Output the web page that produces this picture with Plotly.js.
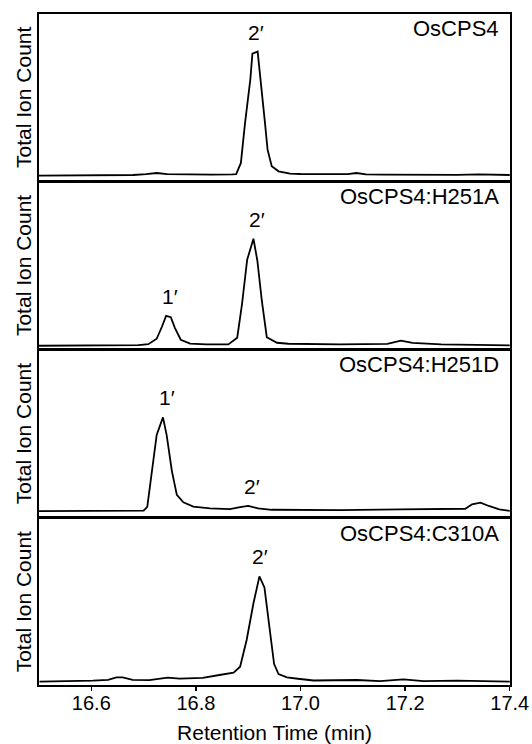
<!DOCTYPE html>
<html>
<head>
<meta charset="utf-8">
<script src="https://cdn.plot.ly/plotly-3.0.1.min.js"></script>
<style>html,body{margin:0;padding:0;background:#fff;}#chart{width:532px;height:744px;}</style>
</head>
<body>
<div id="chart"></div>
<script>
// ---- Data (retention time in min, relative total ion count) ----
var panelNames = ["OsCPS4", "OsCPS4:H251A", "OsCPS4:H251D", "OsCPS4:C310A"];

var timeA = [16.500, 16.560, 16.620, 16.680, 16.705, 16.725, 16.745, 16.780, 16.830, 16.870, 16.877, 16.886, 16.894, 16.904, 16.908, 16.918, 16.924, 16.932, 16.937, 16.945, 16.958, 16.980, 17.000, 17.050, 17.090, 17.107, 17.125, 17.160, 17.220, 17.300, 17.340, 17.360, 17.400];
var ticA  = [5.0, 5.0, 5.2, 5.6, 6.5, 7.6, 6.4, 6.0, 6.0, 6.3, 6.5, 17.7, 58, 101, 127, 129, 101, 58, 31, 14.3, 9.3, 7.0, 6.6, 6.3, 6.5, 7.6, 6.3, 6.0, 5.8, 5.8, 6.2, 5.8, 5.6];

var timeB = [16.500, 16.620, 16.690, 16.709, 16.725, 16.735, 16.743, 16.752, 16.760, 16.771, 16.789, 16.820, 16.862, 16.879, 16.888, 16.898, 16.910, 16.9175, 16.926, 16.9355, 16.955, 16.977, 17.075, 17.166, 17.192, 17.214, 17.269, 17.400];
var ticB  = [3.0, 3.3, 3.6, 4.6, 10, 22, 32.8, 31.5, 20.7, 9.0, 5.2, 4.3, 4.3, 11, 44, 89, 110, 88, 48, 11.5, 6.0, 5.0, 4.4, 4.8, 8.1, 5.8, 4.4, 3.4];

var timeC = [16.500, 16.620, 16.674, 16.700, 16.707, 16.716, 16.725, 16.737, 16.744, 16.754, 16.7635, 16.776, 16.795, 16.827, 16.865, 16.8845, 16.900, 16.919, 16.945, 17.075, 17.165, 17.190, 17.315, 17.328, 17.344, 17.360, 17.380, 17.400];
var ticC  = [5.8, 5.8, 5.8, 6.2, 10, 46, 82, 99.5, 82, 46, 22, 14.5, 10.2, 8.4, 7.8, 9.8, 11, 8.5, 7.1, 6.8, 6.8, 7.5, 8.1, 12.6, 14.3, 10.9, 7.5, 6.1];

var timeD = [16.501, 16.558, 16.603, 16.632, 16.648, 16.660, 16.679, 16.711, 16.746, 16.769, 16.813, 16.845, 16.872, 16.8845, 16.897, 16.910, 16.9214, 16.931, 16.9405, 16.9495, 16.958, 16.974, 16.999, 17.025, 17.108, 17.152, 17.197, 17.235, 17.299, 17.400];
var ticD  = [3.4, 3.7, 4.4, 5.2, 7.6, 7.6, 5.2, 4.8, 7.3, 6.4, 7.1, 10, 12.3, 18.3, 45, 81.7, 108.5, 97.5, 57, 21, 11, 7.7, 6.0, 4.5, 5.0, 3.8, 5.6, 3.8, 4.3, 3.4];

// peak labels: panel index, label, retention time
var peakPanel = [0, 1, 1, 2, 2, 3];
var peakText  = ["2\u2032", "1\u2032", "2\u2032", "1\u2032", "2\u2032", "2\u2032"];
var peakTime  = [16.915, 16.751, 16.917, 16.745, 16.907, 16.923];

var tickVals = [16.6, 16.8, 17.0, 17.2, 17.4];
var tickText = ["16.6", "16.8", "17.0", "17.2", "17.4"];

(function () {
  var times = [timeA, timeB, timeC, timeD];
  var tics  = [ticA, ticB, ticC, ticD];
  var FONT = "Liberation Sans, Arial, Helvetica, sans-serif";
  var nP = 4, gap = 0.00224, ph = (1 - gap * (nP - 1)) / nP;
  var yMax = 166.6;

  var traces = [], annotations = [];
  var layout = {
    width: 532, height: 744,
    margin: {l: 39, r: 22, t: 14, b: 59},
    paper_bgcolor: "#fff", plot_bgcolor: "#fff",
    showlegend: false,
    font: {family: FONT, color: "#000", size: 20}
  };

  for (var i = 0; i < nP; i++) {
    var k = i + 1, xs = k === 1 ? "" : String(k);
    traces.push({
      x: times[i], y: tics[i], type: "scatter", mode: "lines",
      xaxis: "x" + xs, yaxis: "y" + xs,
      line: {color: "#000", width: 1.8}
    });
    var upper = 1 - i * (ph + gap);
    var isBottom = (i === nP - 1);
    var xa = {
      domain: [0, 1], anchor: "y" + xs, range: [16.5, 17.4005],
      showline: true, mirror: true, linecolor: "#000", linewidth: 2,
      showgrid: false, zeroline: false,
      ticks: isBottom ? "outside" : "", ticklen: 4, tickwidth: 1.5, tickcolor: "#000",
      tickmode: "array", tickvals: tickVals, ticktext: tickText,
      showticklabels: isBottom, ticklabelstandoff: -5,
      tickfont: {family: FONT, size: 20, color: "#000"}
    };
    if (k !== 1) xa.matches = "x";
    if (isBottom) {
      xa.title = {text: "Retention Time (min)", font: {family: FONT, size: 21, color: "#000"}, standoff: 14};
    }
    layout["xaxis" + xs] = xa;
    layout["yaxis" + xs] = {
      domain: [Math.max(0, upper - ph), Math.min(1, upper)], anchor: "x" + xs,
      range: [0, yMax],
      showline: true, mirror: true, linecolor: "#000", linewidth: 2,
      showgrid: false, zeroline: false, ticks: "", showticklabels: false,
      title: {text: "Total Ion Count", font: {family: FONT, size: 21, color: "#000"}, standoff: 0}
    };
    annotations.push({
      xref: "x" + xs + " domain", yref: "y" + xs + " domain",
      x: 0.981, y: 0.912, xanchor: "right", yanchor: "middle",
      text: panelNames[i], showarrow: false,
      font: {family: FONT, size: 22, color: "#000"}
    });
  }

  for (var j = 0; j < peakText.length; j++) {
    var p = peakPanel[j], ts = times[p], vs = tics[p], best = 0;
    for (var m = 0; m < ts.length; m++) {
      if (Math.abs(ts[m] - peakTime[j]) < 0.025 && vs[m] > best) best = vs[m];
    }
    var sfx = p === 0 ? "" : String(p + 1);
    annotations.push({
      xref: "x" + sfx, yref: "y" + sfx, x: peakTime[j], y: best,
      xanchor: "center", yanchor: "bottom", yshift: 6,
      text: peakText[j], showarrow: false,
      font: {family: FONT, size: 21, color: "#000"}
    });
  }
  layout.annotations = annotations;

  Plotly.newPlot("chart", traces, layout, {displayModeBar: false, staticPlot: true});
})();
</script>
</body>
</html>
